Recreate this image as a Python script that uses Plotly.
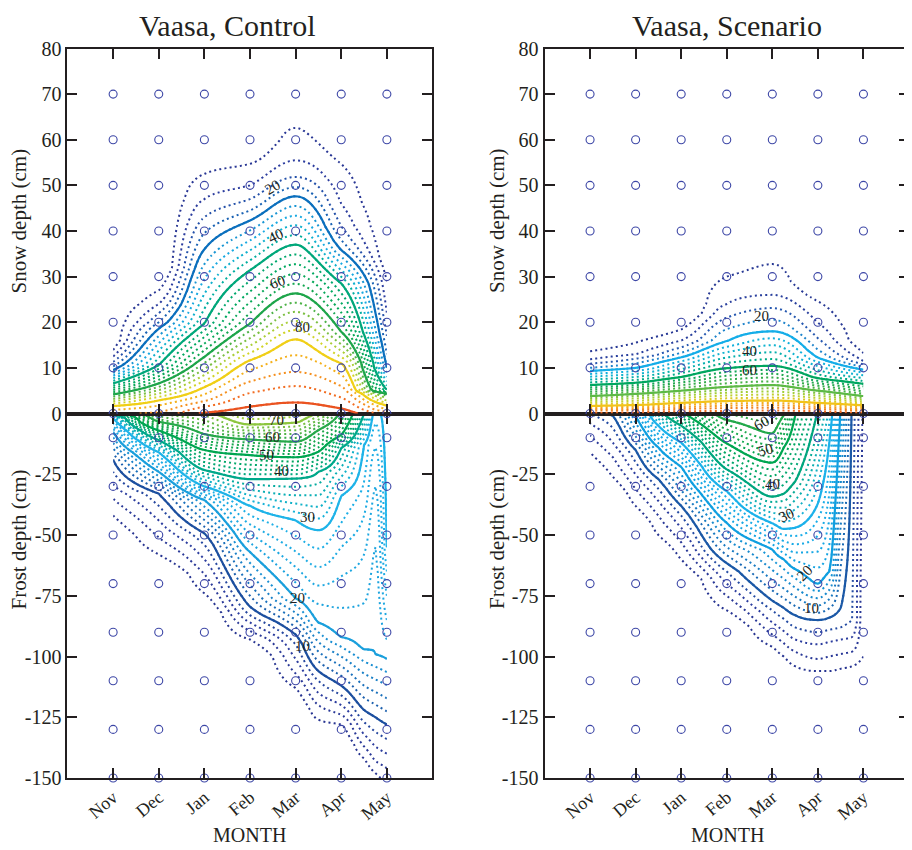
import numpy as np
import plotly.graph_objects as go

# ---------------- axes / grid data ----------------
MONTHS = ["Nov", "Dec", "Jan", "Feb", "Mar", "Apr", "May"]
MONTH_POS = [0, 1, 2, 3, 4, 5, 6]
SNOW_TICKS = [0, 10, 20, 30, 40, 50, 60, 70, 80]
FROST_TICKS = [-150, -125, -100, -75, -50, -25]
SNOW_CIRCLES = [0, 10, 20, 30, 40, 50, 60, 70]
FROST_CIRCLES = [-10, -30, -50, -70, -90, -110, -130, -150]

N = None
# ---------------- Control, snow: depth (cm) of each probability level (%) per month ----------------
cs_x = [0, 1, 2, 3, 4, 5, 6]
cs_surface = [87, 89, 96.5, 98, 99, 98, 90]
cs_levels = [96, 92, 88, 84, 80, 60, 40, 20, 16, 12, 8, 4, 0]
cs_depth = [
    [N, N, N, 1.5, 2.4, 1.1, N],
    [N, N, 1.5, 4.5, 6.0, 3.5, N],
    [N, 0.3, 2.7, 7.0, 9.1, 6.0, 0.4],
    [0.8, 1.8, 4.2, 9.5, 12.8, 8.5, 0.9],
    [1.7, 2.9, 5.8, 11.7, 16.3, 11.0, 1.8],
    [4.2, 6.6, 12.4, 19.7, 26.3, 17.9, 4.4],
    [6.6, 10.6, 19.7, 31.4, 37.0, 28.5, 5.1],
    [9.5, 18.6, 36.0, 42.3, 47.6, 35.8, 10.0],
    [10.3, 20.0, 39.5, 44.5, 49.6, 38.0, 13.0],
    [11.3, 22.0, 43.0, 47.0, 51.8, 41.0, 17.0],
    [12.5, 24.0, 47.0, 50.0, 55.5, 46.0, 22.0],
    [13.9, 27.0, 52.5, 54.7, 62.6, 54.7, 29.0],
    [16.0, 32.0, 60.0, 60.0, 70.0, 62.0, 34.0],
]

# ---------------- Control, frost ----------------
cf_x = [0, 1, 2, 3, 4, 4.5, 5, 5.5, 5.75, 6]
cf_surface = [40.5, 66, 69, 74, 73, 69.5, 59, 40, 29, 32]
cf_levels = [70, 60, 50, 40, 30, 28, 26, 24, 22, 20, 10, 8, 6, 4, 2, 0]
cf_depth = [
    [N, N, N, 4.5, 3.8, N, N, N, N, N],
    [N, 3.4, 8.5, 10.7, 11.6, 6.8, N, N, N, N],
    [N, 7.0, 15.0, 17.1, 18.0, 15.7, 8.8, N, N, N],
    [0.3, 11.0, 23.3, 27.0, 26.7, 24.0, 14.2, N, N, N],
    [2.0, 16.0, 30.0, 38.0, 44.0, 48.0, 34.0, 13.0, N, 55.0],
    [N, N, N, N, N, N, 45.0, 28.0, 4.0, 65.0],
    [N, N, N, N, N, N, 55.0, 42.0, 14.0, 75.0],
    [N, N, N, N, N, N, 67.0, 58.0, 30.0, 85.0],
    [N, N, N, N, N, N, 80.0, 78.0, 55.0, 93.0],
    [7.5, 24.0, 35.6, 57.0, 76.0, 86.0, 92.0, 97.0, 99.0, 101.0],
    [19.0, 33.0, 49.3, 79.5, 91.0, 106.0, 112.0, 122.0, 125.0, 128.0],
    [24.0, 38.0, 54.0, 83.0, 95.0, 110.0, 116.0, 127.0, 131.0, 134.0],
    [29.0, 44.0, 60.0, 86.0, 101.0, 115.0, 120.0, 132.0, 137.0, 140.0],
    [35.0, 51.0, 66.0, 89.5, 107.0, 120.0, 124.0, 137.0, 143.0, 146.0],
    [42.0, 58.0, 74.0, 93.0, 113.0, 126.0, 128.0, 142.0, 148.0, 152.0],
    [50.0, 66.0, 82.0, 100.0, 122.0, 134.0, 136.0, 150.0, 155.0, 158.0],
]

# ---------------- Scenario, snow ----------------
ss_x = [0, 1, 2, 3, 4, 5, 6]
ss_surface = [97, 97, 98, 98, 99, 98, 97]
ss_levels = [96, 92, 88, 84, 80, 60, 40, 20, 16, 12, 8, 4, 0]
ss_depth = [
    [0.3, 0.4, 0.5, 0.6, 0.7, 0.5, 0.3],
    [0.7, 0.8, 1.0, 1.2, 1.3, 1.0, 0.7],
    [1.0, 1.1, 1.4, 1.7, 1.8, 1.4, 1.0],
    [1.3, 1.5, 1.9, 2.2, 2.3, 1.9, 1.4],
    [1.6, 1.8, 2.3, 2.7, 2.8, 2.3, 1.8],
    [3.8, 4.3, 5.0, 5.8, 6.2, 5.0, 3.8],
    [6.2, 6.7, 8.0, 9.9, 10.4, 7.7, 6.5],
    [9.3, 10.0, 12.3, 15.8, 18.0, 12.2, 9.6],
    [10.0, 11.0, 13.3, 18.5, 20.6, 14.0, 10.2],
    [10.9, 12.0, 14.5, 21.0, 23.1, 16.5, 10.8],
    [11.8, 13.0, 16.0, 24.0, 26.0, 19.9, 11.5],
    [13.6, 15.5, 18.4, 30.0, 32.8, 24.6, 13.2],
    [16.0, 19.0, 22.0, 35.0, 37.0, 29.0, 16.0],
]

# ---------------- Scenario, frost ----------------
sf_x = [0, 0.5, 1, 1.5, 2, 3, 4, 4.25, 4.5, 5, 5.25, 5.5, 5.75, 6]
sf_surface = [8, 11, 22, 37, 49, 62, 63.5, 60.5, 50.5, 39.5, 33, 19.5, 9.6, 3.5]
sf_levels = [60, 50, 40, 30, 20, 10, 8, 6, 4, 2, 0]
sf_depth = [
    [N, N, N, N, N, 2.7, 8.2, 0.8, N, N, N, N, N, N],
    [N, N, N, N, N, 12.3, 20.2, 14.0, 1.0, N, N, N, N, N],
    [N, N, N, N, 5.0, 23.0, 34.2, 33.0, 28.0, N, N, N, N, N],
    [N, N, N, 5.0, 12.0, 32.0, 45.2, 47.5, 47.0, 37.0, 12.0, N, N, N],
    [N, N, 1.0, 14.0, 22.0, 45.0, 56.0, 60.0, 64.0, 70.0, 65.0, N, N, N],
    [N, 1.0, 15.0, 27.0, 38.0, 61.6, 77.0, 80.0, 83.0, 85.0, 84.0, 80.0, N, N],
    [N, 6.0, 20.0, 31.0, 42.0, 65.0, 81.0, 84.5, 88.0, 90.0, 89.0, 88.0, 85.0, N],
    [4.0, 12.0, 25.0, 36.0, 47.0, 70.0, 86.0, 89.5, 93.0, 95.0, 94.0, 93.0, 92.0, N],
    [9.0, 18.0, 31.0, 42.0, 53.0, 75.0, 91.0, 94.5, 98.0, 101.0, 100.0, 99.0, 98.0, N],
    [16.0, 26.0, 38.0, 50.0, 60.0, 81.0, 96.0, 100.0, 104.0, 106.0, 106.0, 105.0, 104.0, 100.0],
    [24.0, 34.0, 46.0, 58.0, 68.0, 88.0, 104.0, 108.0, 112.0, 114.0, 114.0, 113.0, 112.0, 110.0],
]

SNOW_GRID = np.arange(0, 75.01, 0.5)
FROST_GRID = np.arange(0, 150.01, 0.5)
X_FINE = np.linspace(0, 6, 121)


def pchip(x, y, xn):
    x = np.asarray(x, float)
    y = np.asarray(y, float)
    h = np.diff(x)
    d = np.diff(y) / h
    m = np.zeros_like(y)
    for k in range(1, len(x) - 1):
        if d[k - 1] * d[k] > 0:
            w1 = 2 * h[k] + h[k - 1]
            w2 = h[k] + 2 * h[k - 1]
            m[k] = (w1 + w2) / (w1 / d[k - 1] + w2 / d[k])
    m[0], m[-1] = d[0], d[-1]
    i = np.clip(np.searchsorted(x, xn) - 1, 0, len(x) - 2)
    t = (xn - x[i]) / h[i]
    return ((2 * t ** 3 - 3 * t ** 2 + 1) * y[i] + (t ** 3 - 2 * t ** 2 + t) * h[i] * m[i]
            + (-2 * t ** 3 + 3 * t ** 2) * y[i + 1] + (t ** 3 - t ** 2) * h[i] * m[i + 1])


def build_table(xcols, surface, levels, depth, dgrid):
    """probability table (rows = depth, cols = month) from the read contour depths"""
    z = np.empty((len(dgrid), len(surface)))
    for j in range(len(surface)):
        pts = {0.0: surface[j]}
        for lev, row in zip(levels, depth):
            if row[j] is not None:
                pts[float(row[j])] = lev
        d = sorted(pts)
        z[:, j] = np.interp(dgrid, d, [pts[k] for k in d])
    return np.array([pchip(xcols, row, X_FINE) for row in z])


def hex_rgb(h):
    return np.array([int(h[k:k + 2], 16) for k in (1, 3, 5)], float)


def color_at(scale, v):
    v = min(max(v, 0.0), 1.0)
    for (p0, c0), (p1, c1) in zip(scale[:-1], scale[1:]):
        if v <= p1:
            t = 0 if p1 == p0 else (v - p0) / (p1 - p0)
            c = hex_rgb(c0) * (1 - t) + hex_rgb(c1) * t
            return 'rgb(%d,%d,%d)' % tuple(np.round(c))
    return scale[-1][1]


def level_scale(master, start, end, size):
    levs = np.arange(start, end + 0.001, size)
    if len(levs) == 1:
        c = color_at(master, start / 100.0)
        return [[0, c], [1, c]]
    return [[(lv - start) / (end - start), color_at(master, lv / 100.0)] for lv in levs]


CS_SCALE = [[0.00, '#25308a'], [0.08, '#2b3c9e'], [0.14, '#1f5aae'], [0.20, '#0b6fbd'],
            [0.25, '#1b9ed9'], [0.30, '#16b1e6'], [0.36, '#00ad9f'], [0.40, '#00a77a'],
            [0.50, '#00a85a'], [0.60, '#1ea54a'], [0.68, '#7bbf41'], [0.74, '#c2d631'],
            [0.80, '#f0cf17'], [0.86, '#f6a11d'], [0.92, '#f26d22'], [1.00, '#e2391e']]
CF_SCALE = [[0.00, '#25308a'], [0.06, '#2b3c9e'], [0.10, '#1c4f9f'], [0.15, '#1a78c2'],
            [0.20, '#1a9fdc'], [0.30, '#1eb3e8'], [0.35, '#0db0c0'], [0.40, '#00a88a'],
            [0.50, '#00a651'], [0.60, '#27a84a'], [0.70, '#8dc63f'], [0.80, '#d7df23'],
            [1.00, '#f7941d']]
SS_SCALE = [[0.00, '#25308a'], [0.10, '#2a43a2'], [0.15, '#1f78c4'], [0.20, '#15ade8'],
            [0.28, '#10b3d0'], [0.34, '#00ad9c'], [0.40, '#00a660'], [0.50, '#2aa94b'],
            [0.60, '#5db946'], [0.70, '#b3d335'], [0.80, '#f2c31b'], [0.88, '#f59a1e'],
            [1.00, '#e8511f']]
SF_SCALE = [[0.00, '#25308a'], [0.06, '#2b3c9e'], [0.10, '#1b58a6'], [0.15, '#1783c8'],
            [0.20, '#109fe0'], [0.30, '#1cb1ea'], [0.35, '#0fb0bb'], [0.40, '#00a67e'],
            [0.50, '#00a651'], [0.60, '#22a84a'], [0.70, '#8dc63f'], [1.00, '#d7df23']]

INK = '#231f20'
SERIF = 'Liberation Serif'
DOT = '2px,3.2px'

fig = go.Figure()


def add_level_trace(ygrid, z, master, xa, ya, start, end, size, dash, width):
    fig.add_trace(go.Contour(
        x=X_FINE, y=ygrid, z=z, colorscale=level_scale(master, start, end, size),
        showscale=False, hoverinfo='skip', xaxis=xa, yaxis=ya,
        contours=dict(start=start, end=end, size=size, coloring='lines', showlabels=False),
        line=dict(width=width, dash=dash, smoothing=1.0)))


def add_contours(ygrid, z, master, xa, ya, dotted, solid, extra=None):
    add_level_trace(ygrid, z, master, xa, ya, *dotted, DOT, 2)
    add_level_trace(ygrid, z, master, xa, ya, *solid, 'solid', 2.2)
    if extra is not None:
        add_level_trace(ygrid, z, master, xa, ya, extra, extra, 1, 'solid', 2.2)


# control panel: frost on x/y, snow on x2/y2 ; scenario: frost x3/y3, snow x4/y4
add_contours(SNOW_GRID, build_table(cs_x, cs_surface, cs_levels, cs_depth, SNOW_GRID),
             CS_SCALE, 'x2', 'y2', (4, 96, 4), (20, 80, 20), extra=96)
zf = build_table(cf_x, cf_surface, cf_levels, cf_depth, FROST_GRID)
add_contours(-FROST_GRID[::-1], zf[::-1], CF_SCALE, 'x', 'y', (2, 76, 2), (10, 70, 10))
add_contours(SNOW_GRID, build_table(ss_x, ss_surface, ss_levels, ss_depth, SNOW_GRID),
             SS_SCALE, 'x4', 'y4', (4, 96, 4), (20, 80, 20))
zf = build_table(sf_x, sf_surface, sf_levels, sf_depth, FROST_GRID)
add_contours(-FROST_GRID[::-1], zf[::-1], SF_SCALE, 'x3', 'y3', (2, 76, 2), (10, 70, 10))

# grid-point circles
for xa, ya, yy in [('x2', 'y2', SNOW_CIRCLES), ('x', 'y', FROST_CIRCLES),
                   ('x4', 'y4', SNOW_CIRCLES), ('x3', 'y3', FROST_CIRCLES)]:
    gx, gy = np.meshgrid(MONTH_POS, yy)
    fig.add_trace(go.Scatter(x=gx.ravel(), y=gy.ravel(), mode='markers', xaxis=xa, yaxis=ya,
                             marker=dict(symbol='circle-open', size=8, color='#3c46a6',
                                         line=dict(width=1.1)),
                             cliponaxis=False, hoverinfo='skip', showlegend=False))

# layout (the page adds an 8 px body margin, so positions are offset accordingly)
LEFT = [0.06524, 0.46546]
RIGHT = [0.58827, 0.98794]
SNOW_DOM = [0.52294, 0.95235]
FROST_DOM = [0.09412, 0.52294]

axis_common = dict(showgrid=False, zeroline=False, showline=True, linewidth=2, linecolor=INK,
                   ticks='inside', ticklen=10, tickwidth=2, tickcolor=INK, mirror='ticks',
                   automargin=False, tickfont=dict(family=SERIF, size=20, color=INK))


def xaxis(dom, anchor, labels):
    d = dict(axis_common, domain=dom, anchor=anchor, range=[-1, 7], tickmode='array',
             tickvals=MONTH_POS, ticktext=MONTHS, showticklabels=labels, tickangle=-40)
    d['tickfont'] = dict(family=SERIF, size=18, color=INK)
    return d


def yaxis(dom, anchor, rng, ticks):
    return dict(axis_common, domain=dom, anchor=anchor, range=rng, tickmode='array',
                tickvals=ticks, ticktext=[str(t) for t in ticks])


fig.update_layout(
    width=912, height=850, margin=dict(l=0, r=0, t=0, b=0, pad=0, autoexpand=False),
    autosize=False,
    paper_bgcolor='white', plot_bgcolor='white', showlegend=False,
    xaxis=xaxis(LEFT, 'y', True), yaxis=yaxis(FROST_DOM, 'x', [-150, 0], FROST_TICKS),
    xaxis2=xaxis(LEFT, 'y2', False), yaxis2=yaxis(SNOW_DOM, 'x2', [0, 80], SNOW_TICKS),
    xaxis3=xaxis(RIGHT, 'y3', True), yaxis3=yaxis(FROST_DOM, 'x3', [-150, 0], FROST_TICKS),
    xaxis4=xaxis(RIGHT, 'y4', False), yaxis4=yaxis(SNOW_DOM, 'x4', [0, 80], SNOW_TICKS),
)

ann = []


def paper_text(txt, x, y, size, angle=0):
    ann.append(dict(text=txt, x=x, y=y, xref='paper', yref='paper', showarrow=False,
                    textangle=angle, xanchor='center', yanchor='middle',
                    font=dict(family=SERIF, size=size, color=INK)))


paper_text('Vaasa, Control', 0.2407, 0.9800, 30)
paper_text('Vaasa, Scenario', 0.7884, 0.9800, 30)
paper_text('MONTH', 0.2648, 0.0271, 20)
paper_text('MONTH', 0.7884, 0.0271, 20)
for xp in (0.0126, 0.5362):
    paper_text('Snow depth (cm)', xp, 0.7494, 21, -90)
    paper_text('Frost depth (cm)', xp, 0.3753, 21, -90)

# contour level labels
LABELS = [
    ('x2', 'y2', '20', 3.5, 49.6, -30), ('x2', 'y2', '40', 3.55, 39.0, -25),
    ('x2', 'y2', '60', 3.6, 28.8, -20), ('x2', 'y2', '80', 4.15, 19.0, 0),
    ('x', 'y', '70', 3.57, -2.7, 0), ('x', 'y', '60', 3.5, -9.7, 0),
    ('x', 'y', '50', 3.37, -17.0, 0), ('x', 'y', '40', 3.7, -23.7, 0),
    ('x', 'y', '30', 4.26, -42.6, 0), ('x', 'y', '20', 4.05, -76.0, 0),
    ('x', 'y', '10', 4.16, -95.7, 0),
    ('x4', 'y4', '20', 3.77, 21.3, 0), ('x4', 'y4', '40', 3.5, 13.7, 0),
    ('x4', 'y4', '60', 3.5, 9.5, 0),
    ('x3', 'y3', '60', 3.77, -3.9, -30), ('x3', 'y3', '50', 3.84, -15.0, -15),
    ('x3', 'y3', '40', 4.0, -29.0, 0), ('x3', 'y3', '30', 4.32, -41.8, -25),
    ('x3', 'y3', '20', 4.71, -65.6, -45), ('x3', 'y3', '10', 4.87, -80.0, 0),
]
for xa, ya, t, x, y, a in LABELS:
    ann.append(dict(text=t, x=x, y=y, xref=xa, yref=ya, showarrow=False, textangle=a,
                    font=dict(family=SERIF, size=15, color=INK)))

fig.update_layout(annotations=ann)
fig.write_html("out.html")
